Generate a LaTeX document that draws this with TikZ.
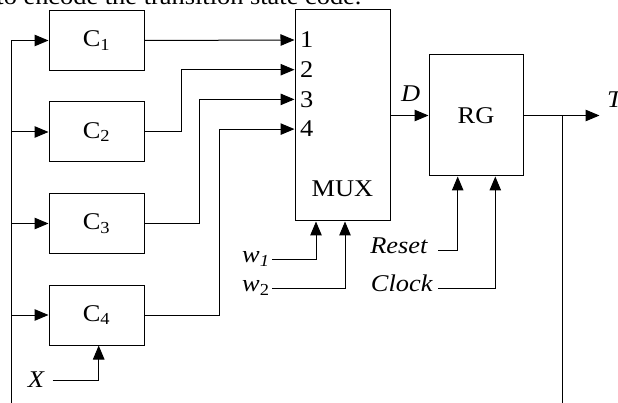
\documentclass[tikz,border=0pt]{standalone}
\usepackage{fontspec}
\setmainfont{Liberation Serif}[FakeStretch=1.1]
\usepackage{tikz}
\usetikzlibrary{positioning,arrows.meta}

\begin{document}
\begin{tikzpicture}[x=1pt,y=-1pt,line width=1pt,font=\fontsize{24}{28}\selectfont,node distance=30.5pt]
\tikzset{blk/.style={draw,minimum width=95pt,minimum height=60pt,inner sep=0pt},
  arr/.style={-{Triangle[length=14pt,width=11.5pt]}},
  lbl/.style={inner sep=0pt,font=\fontsize{24}{28}\selectfont\itshape}}
\useasboundingbox (0,0) rectangle (618,403);
\node[anchor=base east,inner sep=0pt] (cap) at (362,4.5) {to encode the transition state code.};
\node[blk] (c1) at (96.5,40.5) {C\textsubscript{1}};
\node[blk,below=of c1] (c2) {C\textsubscript{2}};
\node[blk,below=of c2] (c3) {C\textsubscript{3}};
\node[blk,below=of c3] (c4) {C\textsubscript{4}};
\node[blk,minimum height=211pt] (mux) at (342.5,115.5) {};
\node[blk,minimum width=94pt,minimum height=121pt,right=38pt of mux] (rg) {RG};
\node (muxl) at ([yshift=33pt]mux.south) {MUX};
\foreach \i in {1,...,4} {
  \coordinate (m\i) at ([yshift={-30.5pt-29.7pt*(\i-1)}]mux.north west);
  \node[anchor=west,inner sep=0pt] (n\i) at ([xshift=5pt]m\i) {\i};
}

\draw[arr] (c1.east) -- (m1);
\draw[arr] (c2.east) -- ++(37,0) |- (m2);
\draw[arr] (c3.east) -- ++(54.7,0) |- (m3);
\draw[arr] (c4.east) -- ++(75,0) |- (m4);

\node[lbl,anchor=base west] (d) at ([shift={(10pt,14pt)}]mux.east) {D};
\draw[arr] (mux.east) -- (rg.west);
\coordinate (tout) at ([xshift=76pt]rg.east);
\coordinate (tap) at ([xshift=39pt]rg.east);
\draw[arr] (rg.east) -- (tout);
\node[lbl,anchor=base west] (t) at ([shift={(7pt,8pt)}]tout) {T};
\coordinate (fbr) at (tap |- 0,410);
\draw (tap) -- (fbr);
\coordinate (fbl) at (11.7,410);
\draw[arr] (fbl) |- (c1.west);
\foreach \k in {2,3,4} \draw[arr] (fbl |- c\k.west) -- (c\k.west);

\node[lbl] (x) at (36,380) {X};
\draw[arr] ([xshift=8pt]x.east) -| ([xshift=2.2pt]c4.south);
\node[lbl,anchor=base east] (w1) at (270,262.3) {w\textsubscript{1}};
\node[lbl,anchor=base east] (w2) at (270,291.5) {w\textsubscript{\upshape 2}};
\draw[arr] ([shift={(2pt,3pt)}]w1.base east) -| ([xshift=-26.5pt]mux.south);
\draw[arr] ([shift={(2pt,3pt)}]w2.base east) -| ([xshift=2.5pt]mux.south);
\node[lbl,anchor=base east] (rst) at (428,254) {Reset};
\node[lbl,anchor=base east] (clk) at (433,291.7) {Clock};
\draw[arr] ([shift={(10pt,3pt)}]rst.base east) -| ([xshift=-18.3pt]rg.south);
\draw[arr] ([shift={(5pt,3pt)}]clk.base east) -| ([xshift=19.3pt]rg.south);
\end{tikzpicture}
\end{document}
